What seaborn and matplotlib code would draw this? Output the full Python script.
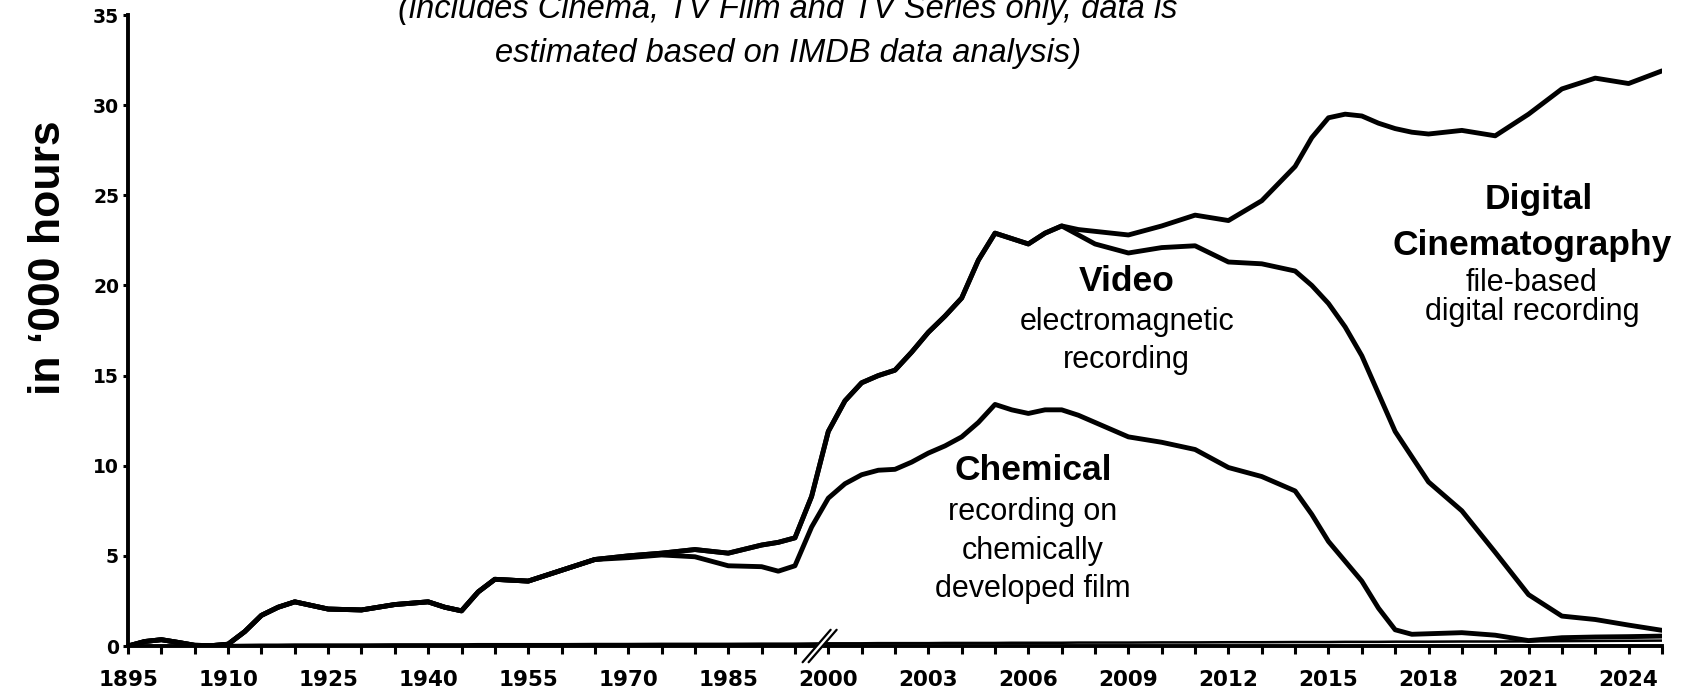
import numpy as np
import pandas as pd
import matplotlib
matplotlib.use("Agg")
import matplotlib.pyplot as plt
import seaborn as sns

# Step 1: values (thousand hours per year)
years_early = [1895, 1897.5, 1900, 1902.5, 1905, 1907.5, 1910, 1912.5, 1915, 1917.5,
               1920, 1922.5, 1925, 1930, 1935, 1940, 1942.5, 1945, 1947.5, 1950,
               1955, 1960, 1965, 1970, 1975, 1980, 1985, 1990, 1992.5, 1995, 1997.5]
years_late = [2000, 2000.5, 2001, 2001.5, 2002, 2002.5, 2003, 2003.5, 2004, 2004.5,
              2005, 2005.5, 2006, 2006.5, 2007, 2007.5, 2008, 2009, 2010, 2011,
              2012, 2013, 2014, 2014.5, 2015, 2015.5, 2016, 2016.5, 2017, 2017.5,
              2018, 2019, 2020, 2021, 2022, 2023, 2024, 2025]

chemical = [0, 0.25, 0.35, 0.2, 0.04, 0.02, 0.1, 0.8, 1.7, 2.15,
            2.45, 2.25, 2.05, 2.0, 2.3, 2.45, 2.15, 1.95, 3.0, 3.7,
            3.6, 4.2, 4.8, 4.9, 5.05, 4.95, 4.45, 4.4, 4.15, 4.45, 6.6,
            8.2, 9.0, 9.5, 9.75, 9.8, 10.2, 10.7, 11.1, 11.6, 12.4,
            13.4, 13.1, 12.9, 13.1, 13.1, 12.8, 12.4, 11.6, 11.3, 10.9,
            9.9, 9.4, 8.6, 7.3, 5.8, 4.7, 3.6, 2.1, 0.9, 0.65,
            0.68, 0.74, 0.6, 0.3, 0.46, 0.5, 0.52, 0.55]

chem_video = [0, 0.25, 0.35, 0.2, 0.04, 0.02, 0.1, 0.8, 1.7, 2.15,
              2.45, 2.25, 2.05, 2.0, 2.3, 2.45, 2.15, 1.95, 3.0, 3.7,
              3.6, 4.2, 4.8, 5.0, 5.15, 5.35, 5.15, 5.6, 5.75, 6.0, 8.3,
              11.9, 13.6, 14.6, 15.0, 15.3, 16.3, 17.4, 18.3, 19.3, 21.4,
              22.9, 22.6, 22.3, 22.9, 23.3, 22.8, 22.3, 21.8, 22.1, 22.2,
              21.3, 21.2, 20.8, 20.0, 19.0, 17.7, 16.1, 14.0, 11.9, 10.5,
              9.1, 7.5, 5.2, 2.85, 1.66, 1.47, 1.16, 0.87]

total = [0, 0.25, 0.35, 0.2, 0.04, 0.02, 0.1, 0.8, 1.7, 2.15,
         2.45, 2.25, 2.05, 2.0, 2.3, 2.45, 2.15, 1.95, 3.0, 3.7,
         3.6, 4.2, 4.8, 5.0, 5.15, 5.35, 5.15, 5.6, 5.75, 6.0, 8.3,
         11.9, 13.6, 14.6, 15.0, 15.3, 16.3, 17.4, 18.3, 19.3, 21.4,
         22.9, 22.6, 22.3, 22.9, 23.3, 23.1, 23.0, 22.8, 23.3, 23.9,
         23.6, 24.7, 26.6, 28.2, 29.3, 29.5, 29.4, 29.0, 28.7, 28.5,
         28.4, 28.6, 28.3, 29.5, 30.9, 31.5, 31.2, 31.9]

baseline = [0, 0, 0, 0, 0, 0.02, 0.05, 0.06, 0.07, 0.07,
            0.08, 0.08, 0.08, 0.08, 0.09, 0.09, 0.09, 0.09, 0.1, 0.1,
            0.1, 0.1, 0.11, 0.11, 0.12, 0.12, 0.12, 0.13, 0.13, 0.13, 0.14,
            0.15, 0.15, 0.15, 0.16, 0.16, 0.16, 0.16, 0.17, 0.17, 0.17,
            0.17, 0.18, 0.18, 0.18, 0.18, 0.19, 0.19, 0.19, 0.2, 0.2,
            0.21, 0.21, 0.22, 0.22, 0.22, 0.23, 0.23, 0.23, 0.24, 0.24,
            0.24, 0.25, 0.25, 0.26, 0.27, 0.28, 0.29, 0.3]

tick_years_early = [1895, 1910, 1925, 1940, 1955, 1970, 1985, 2000]
tick_years_late = [2003, 2006, 2009, 2012, 2015, 2018, 2021, 2024]


# broken axis: 5-year steps up to 2000, then 1-year steps
def pos(year):
    if year < 2000:
        return (year - 1895) / 5
    return 21 + (year - 2000)


years = years_early + years_late
x = [pos(y) for y in years]

df = pd.DataFrame({
    "pos": x * 3,
    "value": chemical + chem_video + total,
    "series": ["chemical"] * len(x) + ["chem_video"] * len(x) + ["total"] * len(x),
})

# Step 2: figure
sns.set_theme(style="white")
plt.rcParams["font.family"] = ["Liberation Sans", "DejaVu Sans"]
plt.rcParams["text.color"] = "black"

fig = plt.figure(figsize=(16.85, 6.89), dpi=100)
ax = fig.add_axes([0.0760, 0.0624, 0.9103, 0.9158])

ax.plot(x, baseline, color="black", lw=1.8, solid_capstyle="round")
sns.lineplot(data=df, x="pos", y="value", hue="series", estimator=None,
             palette={"chemical": "black", "chem_video": "black", "total": "black"},
             linewidth=3.5, legend=False, ax=ax)
for line in ax.lines:
    line.set_solid_joinstyle("round")
    line.set_solid_capstyle("round")

ax.set_xlim(0, 46)
ax.set_ylim(0, 35)
ax.set_xlabel("")
ax.set_ylabel("")

# ticks
tick_years = tick_years_early + tick_years_late
ax.set_xticks(range(47))
labels = [""] * 47
for ty in tick_years:
    labels[int(pos(ty))] = str(ty)
ax.set_xticklabels(labels, fontfamily="DejaVu Sans", fontweight="bold", fontsize=15.5)
ax.set_yticks(range(0, 36, 5))
ax.set_yticklabels([str(v) for v in range(0, 36, 5)],
                   fontfamily="DejaVu Sans", fontweight="bold", fontsize=13.5)
ax.tick_params(axis="x", direction="out", length=5.5, width=2.2, color="black",
               bottom=True, pad=12, labelcolor="black")
ax.tick_params(axis="y", direction="out", length=3.5, width=2.2, color="black",
               left=True, pad=3, labelcolor="black")

for side in ["top", "right"]:
    ax.spines[side].set_visible(False)
for side in ["left", "bottom"]:
    ax.spines[side].set_color("black")
    ax.spines[side].set_linewidth(2.8)

# axis break mark //
bx = 20.65
dx, dy, gap = 0.42, 0.9, 0.18
ax.fill([bx - dx, bx + dx, bx + dx + gap, bx - dx + gap],
        [-dy, dy, dy, -dy], color="white", zorder=5, clip_on=False)
for off in (0, gap):
    ax.plot([bx - dx + off, bx + dx + off], [-dy, dy], color="black", lw=1.6,
            zorder=6, clip_on=False)

# Step 3: texts
fig.text(0.0285, 0.6255, "in \u2018000 hours", rotation=90, ha="center", va="center",
         fontsize=32, fontweight="bold")
fig.text(0.4677, 1 - 18 / 689, "(includes Cinema, TV Film and TV Series only, data is",
         ha="center", va="baseline", fontsize=23.5, style="italic")
fig.text(0.4677, 1 - 62 / 689, "estimated based on IMDB data analysis)",
         ha="center", va="baseline", fontsize=23.5, style="italic")

head = dict(ha="center", va="center", fontsize=25.5, fontweight="bold")
sub = dict(ha="center", va="center", fontsize=22)

ax.text(29.95, 20.24, "Video", **head)
ax.text(29.95, 17.97, "electromagnetic", **sub)
ax.text(29.95, 15.86, "recording", **sub)

ax.text(27.14, 9.76, "Chemical", **head)
ax.text(27.14, 7.43, "recording on", **sub)
ax.text(27.14, 5.27, "chemically", **sub)
ax.text(27.14, 3.16, "developed film", **sub)

ax.text(42.3, 24.74, "Digital", **head)
ax.text(42.1, 22.24, "Cinematography", **head)
ax.text(42.1, 20.13, "file-based", **sub)
ax.text(42.1, 18.52, "digital recording", **sub)

fig.savefig("out.png", dpi=100, facecolor="white")
